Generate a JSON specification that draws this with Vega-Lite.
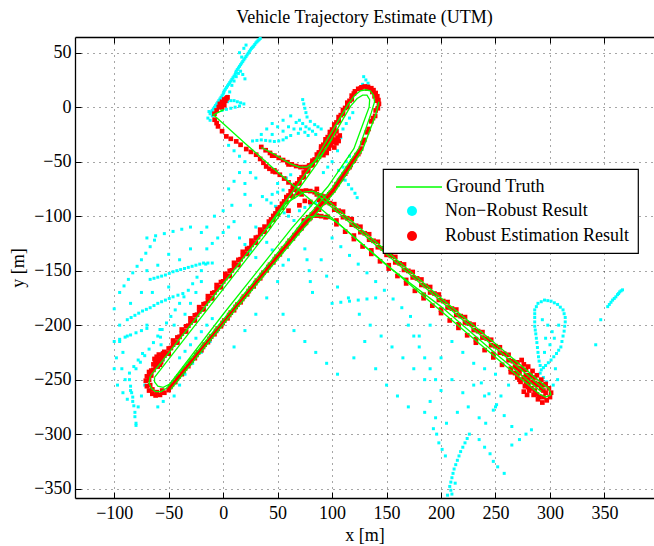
{
"$schema": "https://vega.github.io/schema/vega-lite/v6.json",
"width": 579, "height": 461,
"autosize": {"type": "none"},
"padding": {"left": 75, "top": 37, "right": 0, "bottom": 48},
"background": "white",
"title": {"text": "Vehicle Trajectory Estimate (UTM)", "font": "Liberation Serif", "fontSize": 18, "fontWeight": "normal", "color": "black", "offset": 10, "anchor": "middle"},
"config": {
  "font": "Liberation Serif",
  "view": {"stroke": null},
  "axis": {"labelFont": "Liberation Serif", "labelFontSize": 18, "labelColor": "black", "titleFont": "Liberation Serif", "titleFontSize": 18, "titleFontWeight": "normal", "titleColor": "black", "domainColor": "black", "domainWidth": 1.3, "tickColor": "black", "tickSize": -6, "tickWidth": 1, "gridColor": "black", "gridDash": [1, 5], "gridOpacity": 0.7, "gridWidth": 1},
  "legend": {"orient": "none", "labelFont": "Liberation Serif", "labelFontSize": 18, "labelColor": "black", "labelLimit": 0, "rowPadding": 7, "strokeWidth": 1.2}
},
"datasets": {
"gt": [
{"p":"A1","o":1,"x":-67,"y":-247},{"p":"A1","o":2,"x":0,"y":-162},{"p":"A1","o":3,"x":40,"y":-111},{"p":"A1","o":4,"x":85,"y":-48},{"p":"A1","o":5,"x":97,"y":-27},{"p":"A1","o":6,"x":115,"y":3},{"p":"A1","o":7,"x":121,"y":11},{"p":"A1","o":8,"x":126,"y":15},{"p":"A1","o":9,"x":131,"y":16},{"p":"A1","o":10,"x":135,"y":15},{"p":"A1","o":11,"x":138,"y":11},{"p":"A1","o":12,"x":139,"y":5},{"p":"A1","o":13,"x":136,"y":-5},{"p":"A1","o":14,"x":125,"y":-37},{"p":"A1","o":15,"x":100,"y":-74},{"p":"A1","o":16,"x":66,"y":-114},{"p":"A1","o":17,"x":0,"y":-195},{"p":"A1","o":18,"x":-52,"y":-258},{"p":"A1","o":19,"x":-57,"y":-261},{"p":"A1","o":20,"x":-62,"y":-261},{"p":"A1","o":21,"x":-66,"y":-258},{"p":"A1","o":22,"x":-68,"y":-253},{"p":"A1","o":23,"x":-67,"y":-247},
{"p":"A2","o":1,"x":-63,"y":-248},{"p":"A2","o":2,"x":0,"y":-167},{"p":"A2","o":3,"x":42,"y":-113},{"p":"A2","o":4,"x":86,"y":-52},{"p":"A2","o":5,"x":99,"y":-30},{"p":"A2","o":6,"x":117,"y":1},{"p":"A2","o":7,"x":123,"y":8},{"p":"A2","o":8,"x":128,"y":11},{"p":"A2","o":9,"x":132,"y":11},{"p":"A2","o":10,"x":134.5,"y":7},{"p":"A2","o":11,"x":134,"y":0},{"p":"A2","o":12,"x":131,"y":-8},{"p":"A2","o":13,"x":120,"y":-38},{"p":"A2","o":14,"x":96,"y":-73},{"p":"A2","o":15,"x":63,"y":-111},{"p":"A2","o":16,"x":0,"y":-190},{"p":"A2","o":17,"x":-49,"y":-254},{"p":"A2","o":18,"x":-55,"y":-257},{"p":"A2","o":19,"x":-60,"y":-256},{"p":"A2","o":20,"x":-63,"y":-252},{"p":"A2","o":21,"x":-63,"y":-248},
{"p":"A3","o":1,"x":-48,"y":-259},{"p":"A3","o":2,"x":2,"y":-197},{"p":"A3","o":3,"x":68,"y":-118},{"p":"A3","o":4,"x":103,"y":-77},{"p":"A3","o":5,"x":128,"y":-39},{"p":"A3","o":6,"x":140,"y":-7},{"p":"A3","o":7,"x":143,"y":5},
{"p":"B1","o":1,"x":1,"y":-2},{"p":"B1","o":2,"x":-9,"y":-7},{"p":"B1","o":3,"x":0,"y":-15},{"p":"B1","o":4,"x":20,"y":-33},{"p":"B1","o":5,"x":47,"y":-57},{"p":"B1","o":6,"x":100,"y":-102},{"p":"B1","o":7,"x":200,"y":-187},{"p":"B1","o":8,"x":260,"y":-238},{"p":"B1","o":9,"x":290,"y":-263},{"p":"B1","o":10,"x":296,"y":-266},{"p":"B1","o":11,"x":301,"y":-264},
{"p":"B2","o":1,"x":301,"y":-264},{"p":"B2","o":2,"x":299,"y":-258},{"p":"B2","o":3,"x":290,"y":-251},{"p":"B2","o":4,"x":250,"y":-217},{"p":"B2","o":5,"x":200,"y":-175},{"p":"B2","o":6,"x":150,"y":-132},{"p":"B2","o":7,"x":100,"y":-89},{"p":"B2","o":8,"x":90,"y":-80},{"p":"B2","o":9,"x":82,"y":-77},{"p":"B2","o":10,"x":74,"y":-78},{"p":"B2","o":11,"x":66,"y":-83},{"p":"B2","o":12,"x":58,"y":-88},{"p":"B2","o":13,"x":40,"y":-112},
{"p":"B3","o":1,"x":66,"y":-114},{"p":"B3","o":2,"x":72,"y":-106},{"p":"B3","o":3,"x":78,"y":-101},{"p":"B3","o":4,"x":86,"y":-99.5},{"p":"B3","o":5,"x":95,"y":-100.5},{"p":"B3","o":6,"x":105,"y":-106},{"p":"B3","o":7,"x":150,"y":-145},{"p":"B3","o":8,"x":200,"y":-183},{"p":"B3","o":9,"x":250,"y":-226},{"p":"B3","o":10,"x":292,"y":-261},
{"p":"B4","o":1,"x":84,"y":-79},{"p":"B4","o":2,"x":100,"y":-92},{"p":"B4","o":3,"x":150,"y":-135},{"p":"B4","o":4,"x":200,"y":-178},{"p":"B4","o":5,"x":250,"y":-221},{"p":"B4","o":6,"x":295,"y":-259},
{"p":"H","o":1,"x":35,"y":-37},{"p":"H","o":2,"x":45,"y":-42},{"p":"H","o":3,"x":55,"y":-48},{"p":"H","o":4,"x":62,"y":-52},{"p":"H","o":5,"x":70,"y":-55},{"p":"H","o":6,"x":77,"y":-55},{"p":"H","o":7,"x":84,"y":-50},{"p":"H","o":8,"x":90,"y":-44},{"p":"H","o":9,"x":95,"y":-37},{"p":"H","o":10,"x":100,"y":-29}
],
"nr": [
{"x":-12,"y":-6},{"x":-10,"y":-3},{"x":-8,"y":0},{"x":-6,"y":3},{"x":-4,"y":6},{"x":-2,"y":9},{"x":0,"y":12},{"x":1,"y":15},{"x":3,"y":18},{"x":5,"y":21},{"x":7,"y":24},{"x":9,"y":27},{"x":11,"y":30},{"x":12,"y":33},{"x":14,"y":36},{"x":16,"y":39},{"x":18,"y":42},{"x":20,"y":45},{"x":22,"y":48},{"x":24,"y":51},{"x":26,"y":54},{"x":28,"y":56},{"x":30,"y":59},{"x":32,"y":61},{"x":34,"y":63},
{"x":-11,"y":-4.5},{"x":-9,"y":-1.5},{"x":-7,"y":1.5},{"x":-5,"y":4.5},{"x":-3,"y":7.5},{"x":-1,"y":10.5},{"x":0.5,"y":13.5},{"x":2,"y":16.5},{"x":4,"y":19.5},{"x":6,"y":22.5},{"x":8,"y":25.5},{"x":10,"y":28.5},{"x":11.5,"y":31.5},{"x":13,"y":34.5},{"x":15,"y":37.5},{"x":17,"y":40.5},{"x":19,"y":43.5},{"x":21,"y":46.5},{"x":23,"y":49.5},{"x":25,"y":52.5},{"x":27,"y":55},{"x":29,"y":57.5},{"x":31,"y":60},{"x":33,"y":62},
{"x":-5,"y":-1},{"x":-2,"y":1},{"x":1,"y":3},{"x":4,"y":5},{"x":7,"y":6},{"x":10,"y":6},{"x":13,"y":5},{"x":16,"y":4},{"x":19,"y":3},{"x":15,"y":1},{"x":11,"y":0},{"x":7,"y":-1},{"x":3,"y":-2},{"x":-1,"y":-3},
{"x":8,"y":20},{"x":10,"y":24},{"x":12,"y":28},{"x":14,"y":31},{"x":16,"y":33},{"x":18,"y":30},{"x":20,"y":26},{"x":6,"y":14},{"x":4,"y":10},{"x":17,"y":46},{"x":15,"y":50},{"x":19,"y":54},{"x":21,"y":57},
{"x":-14,"y":-10},{"x":-12,"y":-12},{"x":-10,"y":-8},{"x":-13,"y":-4},
{"x":27,"y":-31},{"x":31,"y":-30.5},{"x":35,"y":-30},{"x":39,"y":-30.5},{"x":43,"y":-31},{"x":47,"y":-31.5},{"x":51,"y":-31},{"x":55,"y":-30},{"x":58,"y":-28},{"x":62,"y":-26},
{"x":40,"y":-20},{"x":45,"y":-15},{"x":50,"y":-18},{"x":55,"y":-22},{"x":60,"y":-18},{"x":65,"y":-20},{"x":35,"y":-25},{"x":45,"y":-25},{"x":55,"y":-12},{"x":62,"y":-8},
{"x":67,"y":-14},{"x":70,"y":-12},{"x":73,"y":-15},{"x":76,"y":-18},{"x":79,"y":-20},{"x":82,"y":-22},{"x":85,"y":-25},{"x":71,"y":-20},{"x":75,"y":-23},{"x":78,"y":-26},{"x":69,"y":-24},{"x":80,"y":-13},{"x":84,"y":-16},{"x":87,"y":-18},{"x":90,"y":-20},
{"x":73,"y":7},{"x":74,"y":3},{"x":75,"y":-1},{"x":76,"y":-5},{"x":77,"y":-9},
{"x":129,"y":28},{"x":131,"y":25},{"x":133,"y":22},{"x":128,"y":21},
{"x":109,"y":-63},{"x":112,"y":-67},{"x":115,"y":-71},{"x":118,"y":-75},{"x":121,"y":-79},{"x":123,"y":-83},{"x":110,"y":-55},{"x":113,"y":-50},{"x":116,"y":-45},{"x":106,"y":-58},
{"x":110,"y":-20},{"x":113,"y":-15},{"x":116,"y":-10},{"x":119,"y":-5},{"x":108,"y":-28},{"x":105,"y":-40},{"x":100,"y":-50},{"x":96,"y":-55},{"x":92,"y":-60},
{"x":36,"y":-82},{"x":40,"y":-85},{"x":44,"y":-88},{"x":48,"y":-91},{"x":52,"y":-94},{"x":56,"y":-97},{"x":45,"y":-80},{"x":50,"y":-78},{"x":55,"y":-76},{"x":60,"y":-100},{"x":65,"y":-104},{"x":70,"y":-95},{"x":75,"y":-92},{"x":80,"y":-90},{"x":85,"y":-88},{"x":90,"y":-86},{"x":58,"y":-65},{"x":62,"y":-62},{"x":50,"y":-70},{"x":30,"y":-65},{"x":25,"y":-60},{"x":20,"y":-70},
{"x":15,"y":-60},{"x":10,"y":-68},{"x":5,"y":-75},{"x":20,"y":-80},{"x":25,"y":-90},{"x":10,"y":-40},{"x":15,"y":-45},{"x":20,"y":-50},{"x":5,"y":-35},
{"x":-67,"y":-158},{"x":-60,"y":-156},{"x":-53,"y":-154},{"x":-46,"y":-151},{"x":-39,"y":-149},{"x":-32,"y":-147},{"x":-25,"y":-145},{"x":-18,"y":-143},{"x":-10,"y":-143},
{"x":-63.5,"y":-157},{"x":-56.5,"y":-155},{"x":-49.5,"y":-152.5},{"x":-42.5,"y":-150},{"x":-35.5,"y":-148},{"x":-28.5,"y":-146},{"x":-21.5,"y":-144},{"x":-14,"y":-143},
{"x":-88,"y":-195},{"x":-81,"y":-191},{"x":-74,"y":-187},{"x":-67,"y":-184},{"x":-60,"y":-180},{"x":-53,"y":-177},{"x":-46,"y":-174},{"x":-37,"y":-171},
{"x":-84.5,"y":-193},{"x":-77.5,"y":-189},{"x":-70.5,"y":-185.5},{"x":-63.5,"y":-182},{"x":-56.5,"y":-178.5},{"x":-49.5,"y":-175.5},{"x":-41.5,"y":-172.5},
{"x":-58,"y":-204},{"x":-57.5,"y":-211},{"x":-57,"y":-218},{"x":-56,"y":-225},{"x":-55,"y":-232},
{"x":-80,"y":-240},{"x":-72,"y":-228},{"x":-64,"y":-216},{"x":-56,"y":-204},{"x":-48,"y":-192},{"x":-40,"y":-180},{"x":-32,"y":-168},{"x":-24,"y":-156},{"x":-16,"y":-144},
{"x":-76,"y":-234},{"x":-68,"y":-222},{"x":-60,"y":-210},{"x":-52,"y":-198},{"x":-44,"y":-186},{"x":-36,"y":-174},{"x":-28,"y":-162},{"x":-20,"y":-150},
{"x":-90,"y":-250},{"x":-86,"y":-244},{"x":-82,"y":-238},{"x":-78,"y":-232},{"x":-74,"y":-226},
{"x":-95,"y":-170},{"x":-91,"y":-164},{"x":-87,"y":-158},{"x":-83,"y":-152},{"x":-79,"y":-146},{"x":-75,"y":-140},{"x":-71,"y":-134},{"x":-67,"y":-128},{"x":-63,"y":-122},
{"x":-100,"y":-215},{"x":-95,"y":-213},{"x":-90,"y":-211},{"x":-85,"y":-209},{"x":-80,"y":-207},{"x":-75,"y":-205},{"x":-70,"y":-203},
{"x":-86,"y":-250},{"x":-85,"y":-256},{"x":-84,"y":-262},{"x":-83,"y":-266},{"x":-82,"y":-274},{"x":-81,"y":-284},{"x":-80,"y":-292},
{"x":-40,"y":-230},{"x":-35,"y":-224},{"x":-30,"y":-218},{"x":-25,"y":-212},{"x":-20,"y":-206},{"x":-15,"y":-200},{"x":-10,"y":-194},
{"x":-70,"y":-120},{"x":-62,"y":-118},{"x":-54,"y":-116},{"x":-46,"y":-114},{"x":-38,"y":-112},{"x":-30,"y":-110},
{"x":-97,"y":-255},{"x":-92,"y":-262},{"x":-88,"y":-268},{"x":-100,"y":-240},
{"x":-95,"y":-215},{"x":-92,"y":-225},{"x":-85,"y":-260},{"x":-83,"y":-270},{"x":-81,"y":-280},{"x":-80,"y":-290},{"x":-78,"y":-275},{"x":-75,"y":-265},{"x":-88,"y":-210},{"x":-70,"y":-200},{"x":-65,"y":-170},{"x":-50,"y":-165},{"x":-45,"y":-200},{"x":-40,"y":-210},{"x":-35,"y":-190},{"x":-30,"y":-180},{"x":-25,"y":-170},{"x":-20,"y":-160},{"x":-15,"y":-130},{"x":-10,"y":-125},{"x":-5,"y":-120},{"x":0,"y":-115},{"x":5,"y":-110},{"x":10,"y":-105},{"x":-30,"y":-130},{"x":-40,"y":-140},{"x":-50,"y":-135},{"x":-60,"y":-145},{"x":-70,"y":-150},{"x":-75,"y":-170},{"x":-85,"y":-180},{"x":-95,"y":-200},{"x":-100,"y":-185},{"x":-98,"y":-230},{"x":-93,"y":-240},{"x":-72,"y":-255},{"x":-60,"y":-275},{"x":-55,"y":-270},{"x":-45,"y":-265},{"x":-40,"y":-255},{"x":-35,"y":-245},{"x":-28,"y":-235},{"x":-20,"y":-225},{"x":-12,"y":-215},{"x":-5,"y":-205},
{"x":15,"y":-120},{"x":20,"y":-126},{"x":25,"y":-132},{"x":30,"y":-138},{"x":-20,"y":-115},{"x":-15,"y":-110},{"x":-8,"y":-100},{"x":0,"y":-95},{"x":8,"y":-90},
{"x":30,"y":-110},{"x":35,"y":-117},{"x":40,"y":-124},{"x":45,"y":-131},{"x":50,"y":-138},{"x":55,"y":-145},
{"x":75,"y":-130},{"x":77,"y":-140},{"x":79,"y":-150},{"x":80,"y":-160},{"x":82,"y":-170},
{"x":100,"y":-120},{"x":108,"y":-128},{"x":116,"y":-136},{"x":124,"y":-144},{"x":132,"y":-152},{"x":140,"y":-160},{"x":148,"y":-168},{"x":156,"y":-176},{"x":164,"y":-184},{"x":172,"y":-192},
{"x":100,"y":-180},{"x":108,"y":-179},{"x":116,"y":-178},{"x":124,"y":-177},{"x":132,"y":-176},{"x":140,"y":-175},
{"x":170,"y":-200},{"x":175,"y":-210},{"x":180,"y":-220},{"x":185,"y":-230},{"x":190,"y":-240},{"x":195,"y":-250},
{"x":90,"y":-140},{"x":95,"y":-155},{"x":105,"y":-165},{"x":115,"y":-175},{"x":125,"y":-190},{"x":135,"y":-200},{"x":145,"y":-210},{"x":155,"y":-220},{"x":165,"y":-230},{"x":175,"y":-240},{"x":185,"y":-250},{"x":60,"y":-140},{"x":50,"y":-160},{"x":40,"y":-175},{"x":30,"y":-190},{"x":20,"y":-205},{"x":10,"y":-220},{"x":55,"y":-190},{"x":65,"y":-205},{"x":75,"y":-215},{"x":85,"y":-225},{"x":95,"y":-235},{"x":105,"y":-245},{"x":120,"y":-230},{"x":130,"y":-215},{"x":140,"y":-240},{"x":150,"y":-255},{"x":160,"y":-265},{"x":170,"y":-275},
{"x":226,"y":-300},{"x":222,"y":-308},{"x":218,"y":-316},{"x":215,"y":-324},{"x":212,"y":-332},{"x":210,"y":-340},{"x":208,"y":-348},{"x":210,"y":-355},{"x":206,"y":-356},{"x":213,"y":-345},{"x":198,"y":-308},{"x":201,"y":-314},{"x":204,"y":-320},{"x":196,"y":-300},{"x":193,"y":-295},
{"x":224,"y":-304},{"x":220,"y":-312},{"x":216.5,"y":-320},{"x":213.5,"y":-328},{"x":211,"y":-336},{"x":209,"y":-344},{"x":209,"y":-351.5},
{"x":235,"y":-305},{"x":240,"y":-312},{"x":245,"y":-318},{"x":248,"y":-325},{"x":252,"y":-330},{"x":258,"y":-336},{"x":265,"y":-310},{"x":272,"y":-305},{"x":278,"y":-300},{"x":283,"y":-296},
{"x":190,"y":-270},{"x":185,"y":-280},{"x":195,"y":-285},{"x":205,"y":-290},{"x":215,"y":-280},{"x":225,"y":-275},{"x":235,"y":-285},{"x":200,"y":-260},{"x":210,"y":-250},{"x":220,"y":-262},{"x":230,"y":-255},{"x":240,"y":-265},{"x":250,"y":-275},{"x":237,"y":-253},{"x":244,"y":-263},{"x":251,"y":-273},{"x":258,"y":-283},{"x":265,"y":-293},{"x":262,"y":-255},{"x":255,"y":-265},{"x":248,"y":-278},{"x":241,"y":-290},
{"x":210,"y":-215},{"x":220,"y":-225},{"x":230,"y":-235},{"x":240,"y":-240},{"x":250,"y":-245},{"x":190,"y":-200},{"x":180,"y":-210},{"x":200,"y":-230},
{"x":286,"y":-186},{"x":289,"y":-180},{"x":295,"y":-177},{"x":301,"y":-178},{"x":307,"y":-181},{"x":312,"y":-186},{"x":314,"y":-193},{"x":313.5,"y":-201},{"x":312,"y":-210},{"x":310,"y":-220},{"x":306,"y":-226},{"x":301,"y":-232},{"x":296,"y":-237},{"x":292,"y":-241},{"x":290,"y":-233},{"x":289,"y":-225},{"x":288,"y":-216},{"x":287,"y":-208},{"x":286,"y":-201},{"x":286,"y":-193},{"x":293,"y":-195},{"x":298,"y":-200},{"x":302,"y":-206},{"x":296,"y":-212},{"x":300,"y":-218},{"x":295,"y":-225},{"x":304,"y":-212},{"x":308,"y":-200},{"x":291,"y":-244},{"x":294,"y":-248},{"x":297,"y":-252},
{"x":287.5,"y":-183},{"x":292,"y":-178.5},{"x":298,"y":-177.5},{"x":304,"y":-179.5},{"x":309.5,"y":-183.5},{"x":313,"y":-189.5},{"x":314,"y":-197},{"x":313,"y":-205.5},{"x":311,"y":-215},{"x":308,"y":-223},{"x":303.5,"y":-229},{"x":298.5,"y":-234.5},{"x":294,"y":-239},{"x":291,"y":-237},{"x":289.5,"y":-229},{"x":288.5,"y":-220.5},{"x":287.5,"y":-212},{"x":286.5,"y":-204.5},{"x":286,"y":-197},{"x":286,"y":-189.5},
{"x":305,"y":-240},{"x":307,"y":-250},{"x":303,"y":-255},
{"x":353,"y":-183},{"x":356,"y":-179},{"x":359,"y":-175.5},{"x":362,"y":-172},{"x":364,"y":-169.5},{"x":366.6,"y":-167.6},{"x":354.5,"y":-181},{"x":357.5,"y":-177},{"x":360.5,"y":-174},{"x":363,"y":-171},{"x":365.3,"y":-168.5},{"x":346.6,"y":-195},{"x":342,"y":-218}
],
"re": [
{"x":-66,"y":-241.7},{"x":-66,"y":-246.2},{"x":-62,"y":-238.1},{"x":-62,"y":-234},{"x":-58,"y":-231.6},{"x":-58,"y":-236.3},{"x":-54,"y":-228},{"x":-54,"y":-224.5},{"x":-50,"y":-221.4},{"x":-50,"y":-226.1},{"x":-46,"y":-217.9},{"x":-46,"y":-214.1},{"x":-42,"y":-211.3},{"x":-42,"y":-216},{"x":-38,"y":-207.7},{"x":-38,"y":-204},{"x":-34,"y":-201.1},{"x":-34,"y":-205.8},{"x":-30,"y":-197.6},{"x":-30,"y":-193.8},{"x":-26,"y":-191},{"x":-26,"y":-195.7},{"x":-22,"y":-187.4},{"x":-22,"y":-183.5},{"x":-18,"y":-180.8},{"x":-18,"y":-185.5},{"x":-14,"y":-177.3},{"x":-14,"y":-173.4},{"x":-10,"y":-170.7},{"x":-10,"y":-175.4},{"x":-6,"y":-167.1},{"x":-6,"y":-163.2},{"x":-2,"y":-160.5},{"x":-2,"y":-165.2},{"x":2,"y":-156.8},{"x":2,"y":-153},{"x":6,"y":-150.2},{"x":6,"y":-154.9},{"x":10,"y":-146.6},{"x":10,"y":-142.8},{"x":14,"y":-140.1},{"x":14,"y":-144.8},{"x":18,"y":-136.5},{"x":18,"y":-132.7},{"x":22,"y":-129.9},{"x":22,"y":-134.6},{"x":26,"y":-126.3},{"x":26,"y":-122.5},{"x":30,"y":-119.7},{"x":30,"y":-124.4},{"x":34,"y":-116.2},{"x":34,"y":-112.4},{"x":38,"y":-109.6},{"x":38,"y":-114.3},
{"x":-64,"y":-241},{"x":-60,"y":-236},{"x":-56,"y":-231},{"x":-52,"y":-226},{"x":-48,"y":-221},{"x":-44,"y":-216},{"x":-40,"y":-210.7},{"x":-36,"y":-205.6},{"x":-32,"y":-200.5},{"x":-28,"y":-195.4},{"x":-24,"y":-190.4},{"x":-20,"y":-185.3},{"x":-16,"y":-180.2},{"x":-12,"y":-175.1},{"x":-8,"y":-170},{"x":-4,"y":-165},{"x":0,"y":-159.8},{"x":4,"y":-154.8},{"x":8,"y":-149.7},{"x":12,"y":-144.6},{"x":16,"y":-139.5},{"x":20,"y":-134.4},{"x":24,"y":-129.3},{"x":28,"y":-124.3},{"x":32,"y":-119.2},{"x":36,"y":-114.1},
{"x":42,"y":-105},{"x":42,"y":-109},{"x":46,"y":-99.8},{"x":46,"y":-103.4},{"x":50,"y":-93.5},{"x":50,"y":-98},{"x":54,"y":-88.6},{"x":54,"y":-92.2},{"x":58,"y":-82.5},{"x":58,"y":-86.9},{"x":62,"y":-77.2},{"x":62,"y":-81},{"x":66,"y":-71.4},{"x":66,"y":-75.5},{"x":70,"y":-66.2},{"x":70,"y":-69.8},{"x":74,"y":-60},{"x":74,"y":-64.2},{"x":78,"y":-54.9},{"x":78,"y":-58.5},{"x":82,"y":-49.1},{"x":82,"y":-53},{"x":86,"y":-43.5},{"x":90,"y":-36.1},{"x":90,"y":-40},{"x":94,"y":-29.5},{"x":94,"y":-33},{"x":98,"y":-22.8},{"x":98,"y":-26.1},{"x":102,"y":-15.9},{"x":102,"y":-19.5},{"x":106,"y":-9.1},{"x":106,"y":-12.8},{"x":110,"y":-2.6},{"x":110,"y":-6.1},{"x":114,"y":4.1},{"x":114,"y":0.5},{"x":118,"y":10.6},{"x":118,"y":7.2},
{"x":44,"y":-103},{"x":48,"y":-97.5},{"x":52,"y":-92},{"x":56,"y":-86.5},{"x":60,"y":-81},{"x":64,"y":-75.5},{"x":68,"y":-70},{"x":72,"y":-64.5},{"x":76,"y":-59},{"x":80,"y":-53.5},{"x":84,"y":-48},{"x":88,"y":-41.5},{"x":92,"y":-34.5},{"x":96,"y":-27.5},{"x":100,"y":-20.5},{"x":104,"y":-14},{"x":108,"y":-7.3},{"x":112,"y":-0.7},{"x":116,"y":5.8},{"x":120,"y":12.5},
{"x":121,"y":14.5},{"x":124,"y":16.8},{"x":127,"y":18.2},{"x":130,"y":19},{"x":133,"y":18.6},{"x":136,"y":17.4},{"x":138,"y":15.6},{"x":140,"y":13},{"x":141.5,"y":10},{"x":142.5,"y":6.5},{"x":143,"y":3},{"x":126,"y":17},{"x":132,"y":17},{"x":137,"y":14},{"x":139,"y":10},{"x":141,"y":6},
{"x":142,"y":-1},{"x":140,"y":-3},{"x":139.5,"y":-8},{"x":137.5,"y":-10},{"x":136,"y":-13},{"x":133.5,"y":-20},{"x":132,"y":-23},{"x":129.5,"y":-30},{"x":128,"y":-33},{"x":126.5,"y":-38},{"x":125,"y":-41},
{"x":122.5,"y":-44},{"x":121,"y":-47},{"x":118.5,"y":-50},{"x":117,"y":-53},{"x":114.5,"y":-56},{"x":113,"y":-59},{"x":110.5,"y":-62},{"x":109,"y":-65},{"x":106.5,"y":-67.6},{"x":105,"y":-70.6},{"x":102.5,"y":-73.5},{"x":101,"y":-76.5},
{"x":124,"y":-43},{"x":120,"y":-49},{"x":116,"y":-55},{"x":112,"y":-61},{"x":108,"y":-66},{"x":104,"y":-71},{"x":99,"y":-78.5},{"x":95,"y":-83.5},{"x":91,"y":-88},{"x":87,"y":-93},{"x":83,"y":-98},{"x":79,"y":-102.5},{"x":75,"y":-107},{"x":71,"y":-111.5},
{"x":97.5,"y":-80},{"x":96,"y":-83},{"x":93.5,"y":-84.4},{"x":92,"y":-87.4},{"x":89.5,"y":-89},{"x":88,"y":-92},{"x":85.5,"y":-94},{"x":84,"y":-97},{"x":81.5,"y":-98.5},{"x":80,"y":-101.5},{"x":77.5,"y":-103},{"x":76,"y":-106},{"x":73.5,"y":-108},{"x":72,"y":-111},{"x":69.5,"y":-112.6},{"x":68,"y":-115.6},
{"x":65.5,"y":-117.4},{"x":64,"y":-120.4},{"x":59.5,"y":-124.8},{"x":58,"y":-127.8},{"x":53.5,"y":-132},{"x":52,"y":-135},{"x":47.5,"y":-139.4},{"x":46,"y":-142.4},{"x":41.5,"y":-146.7},{"x":40,"y":-149.7},{"x":35.5,"y":-154},{"x":34,"y":-157},{"x":29.5,"y":-161.4},{"x":28,"y":-164.4},{"x":23.5,"y":-168.7},{"x":22,"y":-171.7},{"x":17.5,"y":-176},{"x":16,"y":-179},{"x":11.5,"y":-183.3},{"x":10,"y":-186.3},{"x":5.5,"y":-190.7},{"x":4,"y":-193.7},{"x":-0.5,"y":-198},{"x":-2,"y":-201},{"x":-6.5,"y":-205.3},{"x":-8,"y":-208.3},{"x":-12.5,"y":-212.6},{"x":-14,"y":-215.6},{"x":-18.5,"y":-220},{"x":-20,"y":-223},{"x":-24.5,"y":-227.3},{"x":-26,"y":-230.3},{"x":-30.5,"y":-234.6},{"x":-32,"y":-237.6},{"x":-36.5,"y":-242},{"x":-38,"y":-245},{"x":-42.5,"y":-249.2},{"x":-44,"y":-252.2},{"x":-48.5,"y":-256.6},{"x":-50,"y":-259.6},
{"x":61,"y":-122.6},{"x":55,"y":-129.9},{"x":49,"y":-137.2},{"x":43,"y":-144.6},{"x":37,"y":-151.9},{"x":31,"y":-159.2},{"x":25,"y":-166.5},{"x":19,"y":-173.9},{"x":13,"y":-181.2},{"x":7,"y":-188.5},{"x":1,"y":-195.8},{"x":-5,"y":-203.1},{"x":-11,"y":-210.5},{"x":-17,"y":-217.8},{"x":-23,"y":-225.1},{"x":-29,"y":-232.4},{"x":-35,"y":-239.8},{"x":-41,"y":-247.1},{"x":-47,"y":-254.4},
{"x":-54,"y":-262},{"x":-58,"y":-264},{"x":-62,"y":-264.5},{"x":-65,"y":-263},{"x":-68,"y":-260},{"x":-70,"y":-256},{"x":-71,"y":-251},{"x":-70,"y":-247},{"x":-68,"y":-243},{"x":-56,"y":-260},{"x":-61,"y":-261.5},{"x":-65,"y":-259},{"x":-67,"y":-255},{"x":-68,"y":-250},
{"x":-63,"y":-231},{"x":-61,"y":-229},{"x":-59,"y":-227},{"x":-60,"y":-233},{"x":-62,"y":-235},{"x":-58,"y":-231},{"x":-56,"y":-229},{"x":-57,"y":-234},{"x":-64,"y":-236},{"x":-60,"y":-238},{"x":-55,"y":-226},
{"x":86,"y":-75},{"x":86,"y":-80},{"x":94,"y":-82},{"x":94,"y":-87},{"x":102,"y":-89},{"x":102,"y":-94},{"x":110,"y":-95.9},{"x":110,"y":-100.9},{"x":118,"y":-102.8},{"x":118,"y":-107.8},{"x":126,"y":-109.7},{"x":126,"y":-114.7},{"x":134,"y":-116.6},{"x":134,"y":-121.6},{"x":142,"y":-123.5},{"x":142,"y":-128.5},{"x":150,"y":-130.5},{"x":150,"y":-135.5},{"x":158,"y":-137.4},{"x":158,"y":-142.4},{"x":166,"y":-144.3},{"x":166,"y":-149.3},{"x":174,"y":-151.2},{"x":174,"y":-156.2},{"x":182,"y":-158.1},{"x":182,"y":-163.1},{"x":190,"y":-165},{"x":190,"y":-170},{"x":198,"y":-171.9},{"x":198,"y":-176.9},{"x":206,"y":-178.8},{"x":206,"y":-183.8},{"x":214,"y":-185.7},{"x":214,"y":-190.7},{"x":222,"y":-192.6},{"x":222,"y":-197.6},{"x":230,"y":-199.5},{"x":230,"y":-204.5},{"x":238,"y":-206.4},{"x":238,"y":-211.4},{"x":246,"y":-213.4},{"x":246,"y":-218.4},{"x":254,"y":-220.3},{"x":254,"y":-225.3},{"x":262,"y":-227.2},{"x":262,"y":-232.2},{"x":270,"y":-234.1},{"x":270,"y":-239.1},{"x":278,"y":-241},{"x":278,"y":-246},{"x":286,"y":-248},{"x":286,"y":-253},{"x":294,"y":-255},{"x":294,"y":-260},
{"x":90,"y":-81.1},{"x":98,"y":-88},{"x":106,"y":-95},{"x":114,"y":-101.9},{"x":122,"y":-108.8},{"x":130,"y":-115.7},{"x":138,"y":-122.6},{"x":146,"y":-129.5},{"x":154,"y":-136.4},{"x":162,"y":-143.3},{"x":170,"y":-150.2},{"x":178,"y":-157.1},{"x":186,"y":-164},{"x":194,"y":-171},{"x":202,"y":-177.9},{"x":210,"y":-184.8},{"x":218,"y":-191.7},{"x":226,"y":-198.6},{"x":234,"y":-205.5},{"x":242,"y":-212.4},{"x":250,"y":-219.3},{"x":258,"y":-226.2},{"x":266,"y":-233.1},{"x":274,"y":-240},{"x":282,"y":-246.9},{"x":290,"y":-253.9},
{"x":72,"y":-80},{"x":80,"y":-87},{"x":88,"y":-94},{"x":96,"y":-100.6},{"x":104,"y":-107.4},{"x":104,"y":-104},{"x":112,"y":-114.2},{"x":120,"y":-121},{"x":120,"y":-117.8},{"x":128,"y":-127.8},{"x":136,"y":-134.6},{"x":136,"y":-131.4},{"x":144,"y":-141.4},{"x":152,"y":-148.1},{"x":152,"y":-145},{"x":160,"y":-154.9},{"x":168,"y":-161.7},{"x":168,"y":-158.5},{"x":176,"y":-168.5},{"x":184,"y":-175.3},{"x":184,"y":-172.1},{"x":192,"y":-182.1},{"x":200,"y":-188.9},{"x":200,"y":-185.7},{"x":208,"y":-195.7},{"x":216,"y":-202.5},{"x":216,"y":-199.3},{"x":224,"y":-209.3},{"x":232,"y":-216.1},{"x":232,"y":-212.9},{"x":240,"y":-222.9},{"x":248,"y":-229.6},{"x":248,"y":-226.4},{"x":256,"y":-236.4},{"x":264,"y":-243.2},{"x":264,"y":-240},{"x":272,"y":-250},{"x":280,"y":-256.8},{"x":280,"y":-253.6},{"x":288,"y":-263.6},
{"x":274,"y":-232},{"x":276,"y":-236},{"x":280,"y":-238},{"x":284,"y":-242},{"x":288,"y":-246},{"x":292,"y":-250},{"x":296,"y":-254},{"x":299,"y":-258},{"x":301,"y":-262},{"x":300,"y":-266},{"x":297,"y":-269},{"x":293,"y":-271},{"x":289,"y":-268},{"x":285,"y":-264},{"x":281,"y":-260},{"x":277,"y":-256},{"x":273,"y":-252},{"x":270,"y":-248},{"x":268,"y":-244},{"x":272,"y":-244},{"x":276,"y":-248},{"x":280,"y":-250},{"x":284,"y":-252},{"x":288,"y":-255},{"x":292,"y":-258},{"x":296,"y":-262},{"x":283,"y":-258},{"x":279,"y":-264},{"x":276,"y":-261},{"x":290,"y":-266},{"x":294,"y":-266},{"x":286,"y":-260},{"x":278,"y":-252},{"x":282,"y":-246},{"x":272,"y":-240},{"x":268,"y":-238},
{"x":-7.8,"y":-11.5},{"x":-6,"y":-14.6},{"x":-4.7,"y":-17.6},{"x":-1,"y":-22},{"x":2.9,"y":-26.8},{"x":7,"y":-29},{"x":12,"y":-31.4},{"x":16,"y":-34.5},{"x":21.2,"y":-38.4},{"x":25.5,"y":-41},{"x":30.3,"y":-43.6},{"x":34,"y":-47.5},{"x":37,"y":-51},{"x":39.5,"y":-54.4},{"x":42.5,"y":-56.5},{"x":45.5,"y":-58.9},{"x":47,"y":-58},{"x":48,"y":-59.5},
{"x":52,"y":-62},{"x":56,"y":-65.5},{"x":60,"y":-69},{"x":64,"y":-72.5},{"x":68,"y":-76},
{"x":-3,"y":3},{"x":-1,"y":5},{"x":1,"y":7},{"x":3,"y":8},{"x":0,"y":4},{"x":2,"y":6},{"x":-2,"y":2.5},{"x":4,"y":9},{"x":-4,"y":0},{"x":-6,"y":-3},{"x":-8,"y":-6},{"x":1,"y":2},{"x":-1,"y":0},
{"x":35,"y":-36.5},{"x":39,"y":-39.5},{"x":43,"y":-42},{"x":47,"y":-44.5},{"x":51,"y":-46.5},{"x":55,"y":-48.5},{"x":59,"y":-50.5},{"x":63,"y":-52.5},{"x":67,"y":-54},{"x":71,"y":-55},{"x":75,"y":-55},{"x":79,"y":-53.5},{"x":82,"y":-51},{"x":85,"y":-48.5},{"x":88,"y":-45.5},{"x":91,"y":-42},{"x":45,"y":-44.5},{"x":60,"y":-52.5},
{"x":90,"y":-38},{"x":92,"y":-36},{"x":94,"y":-33},{"x":96,"y":-30},{"x":98,"y":-28},{"x":100,"y":-26},{"x":102,"y":-24},{"x":104,"y":-22},{"x":93,"y":-40},{"x":95,"y":-42},{"x":97,"y":-38},{"x":99,"y":-35},{"x":101,"y":-32},{"x":103,"y":-30},{"x":105,"y":-28},{"x":107,"y":-26},{"x":96,"y":-34},{"x":98,"y":-31},{"x":100,"y":-29},{"x":102,"y":-37},{"x":104,"y":-33},{"x":106,"y":-31},{"x":92,"y":-44},{"x":88,"y":-42},
{"x":64,"y":-82},{"x":68,"y":-79},{"x":72,"y":-77},{"x":76,"y":-76.5},{"x":80,"y":-77},{"x":84,"y":-78},{"x":74,"y":-104},{"x":78,"y":-101},{"x":82,"y":-99.5},{"x":86,"y":-99.5},{"x":90,"y":-100},{"x":94,"y":-101},
{"x":70,"y":-90},{"x":75,"y":-86},{"x":60,"y":-95},{"x":88,"y":-85}
]
},
"layer": [
{"data": {"name": "nr"}, "mark": {"type": "point", "shape": "square", "filled": true, "size": 9, "opacity": 1},
 "encoding": {
  "x": {"field": "x", "type": "quantitative", "scale": {"domain": [-136, 395.5], "nice": false, "zero": false}, "axis": {"values": [-100,-50,0,50,100,150,200,250,300,350], "title": "x [m]", "grid": true, "labelFont": "Liberation Serif", "labelFontSize": 18, "titleFont": "Liberation Serif", "labelPadding": 12, "titlePadding": 4, "labelFlush": false}},
  "y": {"field": "y", "type": "quantitative", "scale": {"domain": [-358.6, 64.4], "nice": false, "zero": false}, "axis": {"values": [-350,-300,-250,-200,-150,-100,-50,0,50], "title": "y [m]", "grid": true, "labelFont": "Liberation Serif", "labelFontSize": 18, "titleFont": "Liberation Serif", "labelPadding": 10, "titlePadding": 6}},
  "color": {"datum": "Non−Robust Result", "type": "nominal",
    "scale": {"domain": ["Non−Robust Result", "Robust Estimation Result"], "range": ["#00ffff", "#ff0000"]},
    "legend": {"legendX": 308, "legendY": 132, "title": " ", "titleFont": "Liberation Serif", "titleFontSize": 18, "titlePadding": 7, "strokeColor": "black", "fillColor": "white", "padding": 8, "symbolType": "circle", "symbolSize": 100, "symbolOpacity": 1, "symbolOffset": 12, "labelOffset": 24, "zindex": 1}}
 }},
{"data": {"name": "re"}, "mark": {"type": "point", "shape": "square", "filled": true, "size": 22, "opacity": 1},
 "encoding": {
  "x": {"field": "x", "type": "quantitative", "scale": {"domain": [-136, 395.5], "nice": false, "zero": false}, "axis": null},
  "y": {"field": "y", "type": "quantitative", "scale": {"domain": [-358.6, 64.4], "nice": false, "zero": false}},
  "color": {"datum": "Robust Estimation Result", "type": "nominal"}
 }},
{"data": {"name": "gt"}, "mark": {"type": "line", "strokeWidth": 1.3},
 "encoding": {
  "x": {"field": "x", "type": "quantitative", "scale": {"domain": [-136, 395.5], "nice": false, "zero": false}, "axis": {"orient": "top", "values": [-100,-50,0,50,100,150,200,250,300,350], "labels": false, "title": null, "grid": false}},
  "y": {"field": "y", "type": "quantitative", "scale": {"domain": [-358.6, 64.4], "nice": false, "zero": false}},
  "detail": {"field": "p"},
  "order": {"field": "o", "type": "quantitative"},
  "stroke": {"datum": "Ground Truth", "type": "nominal",
    "scale": {"domain": ["Ground Truth"], "range": ["#00ff00"]},
    "legend": {"legendX": 320, "legendY": 126, "title": null, "strokeColor": "transparent", "fillColor": "transparent", "padding": 0, "symbolType": "stroke", "symbolSize": 2116, "symbolStrokeWidth": 1.5, "symbolOffset": 0, "labelOffset": 3, "zindex": 2}}
 }}
],
"resolve": {"axis": {"x": "independent"}}
}
